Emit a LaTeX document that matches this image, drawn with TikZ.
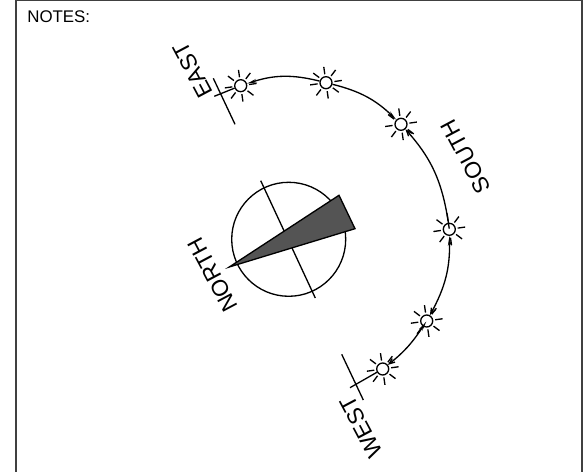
\documentclass[tikz,border=0pt]{standalone}
\usepackage{fontspec}
\setmainfont{Liberation Sans}
\usetikzlibrary{arrows.meta}

\begin{document}
\begin{tikzpicture}[
    x=0.02cm, y=0.02cm,
    every node/.style={font=\fontsize{9.6pt}{11pt}\selectfont},
    sun/.style={circle, draw, line width=0.75pt, inner sep=0pt, minimum size=0.24cm},
    dial/.style={circle, draw, line width=0.75pt, inner sep=0pt, minimum size=2.28cm},
    ray/.style={line width=0.75pt},
    tick/.style={line width=0.75pt},
    track/.style={line width=0.75pt},
    solidtip/.style={-{Stealth[length=2mm,width=0.7mm]}},
    opentip/.style={-{Straight Barb[length=1.1mm,width=0.9mm]}},
    bothtips/.style={{Stealth[length=2mm,width=0.7mm]}-{Straight Barb[length=1.1mm,width=0.9mm]}},
    label/.style={font=\fontsize{13pt}{15pt}\selectfont, rotate=118, inner sep=0pt},
]
\useasboundingbox (0,0) rectangle (588,472);
\draw[line width=0.85pt, black!75] (16,0) -- (16,471.4) -- (582,471.4) -- (582,0);
\node[anchor=base west, inner sep=0pt] (notes) at (27,449.5) {NOTES:};

% suns along the path
\foreach \name/\x/\y in {sun1/240.7/386.3, sun2/326/389.3, sun3/401/347.7,
                         sun4/449.3/242.7, sun5/426.7/151, sun6/382.7/103} {
  \node[sun] (\name) at (\x,\y) {};
  \foreach \a in {8,53,...,323}
    \draw[ray] ([shift={(\a:0.17cm)}]\name.center) -- ([shift={(\a:0.32cm)}]\name.center);
}
\draw[track, solidtip] (sun2) to[bend right=16] (sun1);
\draw[track, solidtip] (sun2) to[bend left=15] (sun3);
\draw[track, opentip, shorten <=-0.12cm] (sun4) to[bend right=17] (sun3);
\draw[track, bothtips] (sun4) to[bend left=15] (sun5);
\draw[track, bothtips, shorten <=-0.12cm] (sun5) to[bend left=9] (sun6);

% horizon marks
\coordinate (eastfar) at (214.3,375.7);
\coordinate (westfar) at (350,84.3);
\draw[tick] (213.3,393.7) -- (235,347.7);
\draw[tick] (eastfar) -- (sun1);
\draw[tick] (341.7,117.7) -- (363.3,72);
\draw[tick] (westfar) -- (sun6);

% compass
\node[dial] (dial) at (288.7,232.7) {};
\draw[tick] (260.7,291.3) -- (315.3,174);
\coordinate (tipa) at (229.3,205);
\coordinate (tipb) at (339,276.7);
\coordinate (tipc) at (355,243.3);
\draw[line width=0.75pt, fill=black!67] (tipa) -- (tipb) -- (tipc) -- cycle;

\node[label] (east) at (193,402) {EAST};
\node[label] (south) at (466,315.5) {SOUTH};
\node[label] (north) at (213,197) {NORTH};
\node[label] (west) at (361,45) {WEST};
\end{tikzpicture}
\end{document}
